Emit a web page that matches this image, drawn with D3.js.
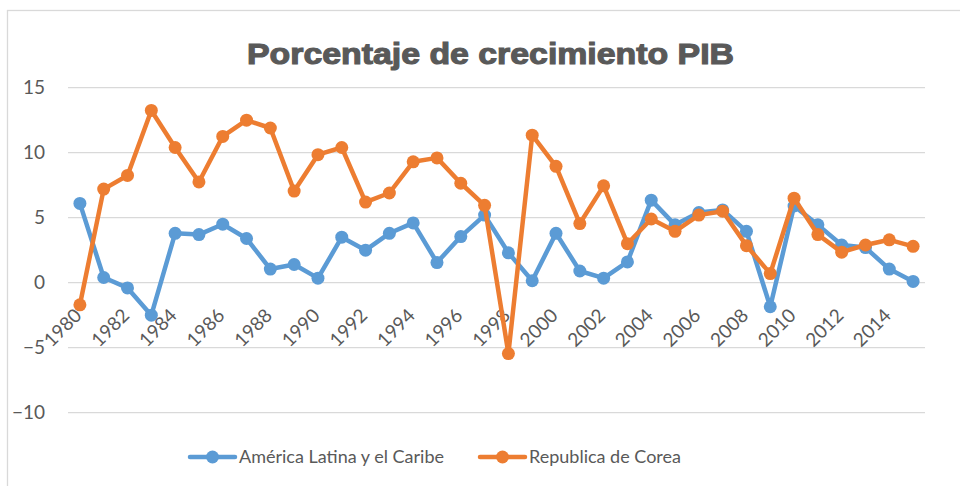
<!DOCTYPE html>
<html>
<head>
<meta charset="utf-8">
<script src="https://cdn.jsdelivr.net/npm/d3@7"></script>
<style>
  html, body { margin: 0; padding: 0; background: #fff; }
  svg { display: block; }
</style>
</head>
<body>
<svg id="chart" width="960" height="486"></svg>
<script>
const years = d3.range(1980, 2016);
const tickYears = [1980,1982,1984,1986,1988,1990,1992,1994,1996,1998,2000,2002,2004,2006,2008,2010,2012,2014];
const yTicks = [-10, -5, 0, 5, 10, 15];
const seriesNames = ["América Latina y el Caribe", "Republica de Corea"];
const seriesColors = ["#5B9BD5", "#ED7D31"];
const latam = [6.1, 0.4, -0.4, -2.5, 3.8, 3.7, 4.5, 3.4, 1.05, 1.4, 0.35,
               3.5, 2.5, 3.8, 4.6, 1.55, 3.55, 5.2, 2.3, 0.15, 3.8,
               0.9, 0.35, 1.6, 6.35, 4.45, 5.4, 5.6, 3.95, -1.85, 5.9,
               4.45, 2.9, 2.7, 1.05, 0.1];
const korea = [-1.7, 7.2, 8.25, 13.25, 10.4, 7.75, 11.25, 12.5, 11.9, 7.05, 9.85,
               10.4, 6.2, 6.9, 9.3, 9.6, 7.65, 5.95, -5.45, 11.35, 8.95,
               4.55, 7.45, 3.0, 4.9, 3.95, 5.2, 5.5, 2.85, 0.7, 6.5,
               3.7, 2.35, 2.9, 3.3, 2.8];
const seriesValues = [latam, korea];

const svg = d3.select("#chart");
const textColor = "#595959";
const font = "Lato, 'Open Sans', sans-serif";

// chart area border
svg.append("rect").attr("x", 7.5).attr("y", 10.5).attr("width", 960).attr("height", 490)
  .attr("fill", "#fff").attr("stroke", "#d9d9d9").attr("stroke-width", 1.3);

// title
svg.append("text").attr("x", 247).attr("y", 64).attr("text-anchor", "start")
  .attr("font-family", "'Liberation Sans', Arial, sans-serif").attr("font-weight", "bold")
  .attr("font-size", 29).attr("fill", textColor)
  .attr("stroke", textColor).attr("stroke-width", 1.1)
  .attr("textLength", 487).attr("lengthAdjust", "spacingAndGlyphs")
  .text("Porcentaje de crecimiento PIB");

const left = 68, right = 925;
const x = d3.scaleBand().domain(years).range([left, right]);
const cx = d => x(d) + x.bandwidth() / 2;
const y = d3.scaleLinear().domain([-10, 15]).range([412.7, 87.7]);

// gridlines
svg.append("g").selectAll("line").data(yTicks).join("line")
  .attr("x1", left).attr("x2", right)
  .attr("y1", d => y(d)).attr("y2", d => y(d))
  .attr("stroke", "#d9d9d9").attr("stroke-width", 1.3);

// y axis
const gy = svg.append("g").attr("transform", `translate(${left},0)`)
  .call(d3.axisLeft(y).tickValues(yTicks).tickSize(0).tickPadding(23).tickFormat(d3.format("d")));
gy.select(".domain").remove();
gy.selectAll("text").attr("font-family", font).attr("font-size", 19).attr("fill", textColor);

// x axis
const gx = svg.append("g").attr("transform", `translate(0,${y(0)})`)
  .call(d3.axisBottom(x).tickValues(tickYears).tickSize(0));
gx.select(".domain").remove();
gx.selectAll("text")
  .attr("x", 0).attr("y", 0).attr("dy", 0)
  .attr("text-anchor", "end")
  .attr("transform", "translate(3,34) rotate(-45)")
  .attr("font-family", font).attr("font-size", 19).attr("fill", textColor);

// series
const line = d3.line().x((d, i) => cx(years[i])).y(d => y(d));
seriesValues.forEach((vals, si) => {
  const g = svg.append("g");
  g.append("path").datum(vals).attr("d", line)
    .attr("fill", "none").attr("stroke", seriesColors[si]).attr("stroke-width", 4.5)
    .attr("stroke-linejoin", "round").attr("stroke-linecap", "round");
  g.selectAll("circle").data(vals).join("circle")
    .attr("cx", (d, i) => cx(years[i])).attr("cy", d => y(d)).attr("r", 6.5)
    .attr("fill", seriesColors[si]);
});

// legend
const legendX = [190, 480];
const legendY = 457;
seriesNames.forEach((name, i) => {
  const g = svg.append("g").attr("transform", `translate(${legendX[i]},${legendY})`);
  g.append("line").attr("x1", 0).attr("x2", 45).attr("y1", 0).attr("y2", 0)
    .attr("stroke", seriesColors[i]).attr("stroke-width", 4.5).attr("stroke-linecap", "round");
  g.append("circle").attr("cx", 22.5).attr("cy", 0).attr("r", 6.5).attr("fill", seriesColors[i]);
  g.append("text").attr("x", 49).attr("y", 0).attr("dy", "0.35em")
    .attr("font-family", font).attr("font-size", 18).attr("fill", textColor)
    .text(name);
});
</script>
</body>
</html>
